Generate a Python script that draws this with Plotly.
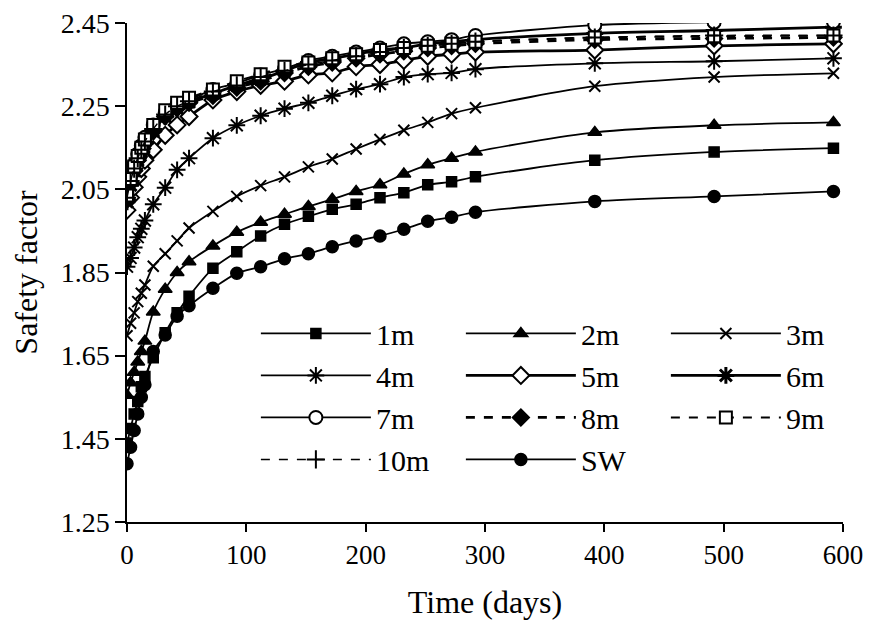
'''
Safety factor vs time for different distances
'''

import plotly.graph_objects as go

# data
days = [0, 3, 6, 9, 12, 15, 22, 32, 42, 52, 72, 92, 112, 132, 152, 172, 192, 212,
        232, 252, 272, 292, 392, 492, 592]

sf_1m = [1.44, 1.475, 1.51, 1.54, 1.575, 1.60, 1.645, 1.705, 1.753, 1.793, 1.86, 1.90,
         1.938, 1.966, 1.985, 2.002, 2.014, 2.03, 2.042, 2.061, 2.068, 2.08, 2.12, 2.14, 2.149]
sf_2m = [1.555, 1.585, 1.61, 1.635, 1.66, 1.685, 1.755, 1.81, 1.85, 1.876, 1.914, 1.947,
         1.971, 1.99, 2.009, 2.026, 2.045, 2.061, 2.087, 2.109, 2.125, 2.14, 2.187, 2.204, 2.211]
sf_3m = [1.698, 1.728, 1.753, 1.78, 1.80, 1.82, 1.865, 1.895, 1.926, 1.957, 1.997, 2.033,
         2.059, 2.08, 2.104, 2.123, 2.147, 2.17, 2.192, 2.211, 2.232, 2.246, 2.298, 2.32, 2.329]
sf_4m = [1.864, 1.885, 1.91, 1.935, 1.955, 1.975, 2.014, 2.054, 2.097, 2.125, 2.173, 2.204,
         2.227, 2.244, 2.258, 2.275, 2.291, 2.303, 2.32, 2.327, 2.33, 2.339, 2.353, 2.358, 2.365]
sf_5m = [2.00, 2.03, 2.055, 2.08, 2.10, 2.12, 2.145, 2.18, 2.205, 2.225, 2.265, 2.285,
         2.30, 2.31, 2.325, 2.33, 2.345, 2.35, 2.36, 2.37, 2.375, 2.38, 2.385, 2.395, 2.40]
sf_6m = [2.02, 2.06, 2.095, 2.12, 2.14, 2.16, 2.19, 2.225, 2.245, 2.26, 2.28, 2.30,
         2.315, 2.335, 2.355, 2.365, 2.375, 2.385, 2.39, 2.40, 2.405, 2.41, 2.425, 2.432, 2.44]
sf_7m = [2.04, 2.08, 2.11, 2.135, 2.155, 2.175, 2.205, 2.235, 2.255, 2.265, 2.29, 2.305,
         2.325, 2.34, 2.36, 2.37, 2.38, 2.39, 2.40, 2.405, 2.41, 2.42, 2.445, 2.452, 2.453]
sf_8m = [2.025, 2.065, 2.095, 2.12, 2.14, 2.16, 2.19, 2.225, 2.245, 2.258, 2.275, 2.295,
         2.31, 2.33, 2.345, 2.355, 2.365, 2.375, 2.382, 2.39, 2.395, 2.40, 2.41, 2.413, 2.415]
sf_9m = [2.035, 2.075, 2.105, 2.13, 2.15, 2.17, 2.205, 2.24, 2.258, 2.27, 2.29, 2.31,
         2.327, 2.345, 2.355, 2.365, 2.375, 2.385, 2.39, 2.395, 2.40, 2.405, 2.415, 2.418, 2.42]
sf_10m = [2.03, 2.07, 2.10, 2.125, 2.145, 2.165, 2.195, 2.23, 2.25, 2.262, 2.285, 2.30,
          2.32, 2.335, 2.35, 2.36, 2.37, 2.38, 2.39, 2.395, 2.40, 2.405, 2.415, 2.42, 2.42]
sf_sw = [1.39, 1.43, 1.47, 1.51, 1.55, 1.58, 1.66, 1.70, 1.745, 1.77, 1.812, 1.848,
         1.864, 1.883, 1.895, 1.912, 1.926, 1.938, 1.954, 1.973, 1.983, 1.995, 2.021, 2.033, 2.045]

series_names = ['1m', '2m', '3m', '4m', '5m', '6m', '7m', '8m', '9m', '10m', 'SW']
series_values = [sf_1m, sf_2m, sf_3m, sf_4m, sf_5m, sf_6m, sf_7m, sf_8m, sf_9m, sf_10m, sf_sw]

# (symbol, fill colour, marker size, line width, dash, marker outline width)
styles = {
    '1m': ('square', 'black', 10, 1.8, 'solid', 1.5),
    '2m': ('triangle-up', 'black', 12, 1.8, 'solid', 1.5),
    '3m': ('x-thin-open', 'black', 11, 1.8, 'solid', 2),
    '4m': ('asterisk-open', 'black', 14, 1.8, 'solid', 2),
    '5m': ('diamond', 'white', 13, 2.8, 'solid', 2),
    '6m': ('asterisk-open', 'black', 14, 2.8, 'solid', 3),
    '7m': ('circle', 'white', 13, 1.8, 'solid', 2),
    '8m': ('diamond', 'black', 13, 2.8, 'dash', 1.5),
    '9m': ('square', 'white', 12, 2, 'dash', 2),
    '10m': ('cross-thin-open', 'black', 13, 1.5, 'dash', 2),
    'SW': ('circle', 'black', 12, 1.8, 'solid', 1.5),
}

fig = go.Figure()

for name, vals in zip(series_names, series_values):
    sym, fill, size, lw, dash, mlw = styles[name]
    fig.add_trace(go.Scatter(
        x=days, y=vals, name=name, mode='lines+markers',
        line=dict(color='black', width=lw, dash=dash, shape='spline', smoothing=0.8),
        marker=dict(symbol=sym, size=size, color=fill,
                    line=dict(color='black', width=mlw))
    ))

# the page puts the figure 8px in from the top-left corner,
# so the figure is sized to fit inside that body margin (no scrollbars)
fig.update_layout(
    width=857, height=612,
    margin=dict(l=119, r=22, t=15, b=98, autoexpand=False),
    paper_bgcolor='white',
    plot_bgcolor='white',
    font=dict(family='Liberation Serif, Times New Roman, serif', color='black', size=28),
    showlegend=True,
    legend=dict(
        orientation='h',
        x=0.18, y=0.43, xanchor='left', yanchor='top',
        entrywidth=80, entrywidthmode='pixels',
        itemwidth=110,
        font=dict(size=30),
        bgcolor='rgba(0,0,0,0)',
    ),
)

fig.update_xaxes(
    range=[0, 600], tick0=0, dtick=100,
    showline=True, linecolor='black', linewidth=1.5,
    ticks='outside', ticklen=8, tickcolor='black', tickwidth=1.5,
    showgrid=False, zeroline=False, automargin=False,
    ticklabeloverflow='allow',
    tickfont=dict(size=27),
    title=dict(text='Time (days)', font=dict(size=32), standoff=22),
)
fig.update_yaxes(
    range=[1.25, 2.45], tick0=1.25, dtick=0.2, tickformat='.2f',
    showline=True, linecolor='black', linewidth=1.5,
    ticks='outside', ticklen=10, tickcolor='black', tickwidth=1.5,
    showgrid=False, zeroline=False, automargin=False,
    ticklabeloverflow='allow',
    tickfont=dict(size=28),
    title=dict(text='Safety factor', font=dict(size=32), standoff=30),
)

fig.write_html('out.html')
